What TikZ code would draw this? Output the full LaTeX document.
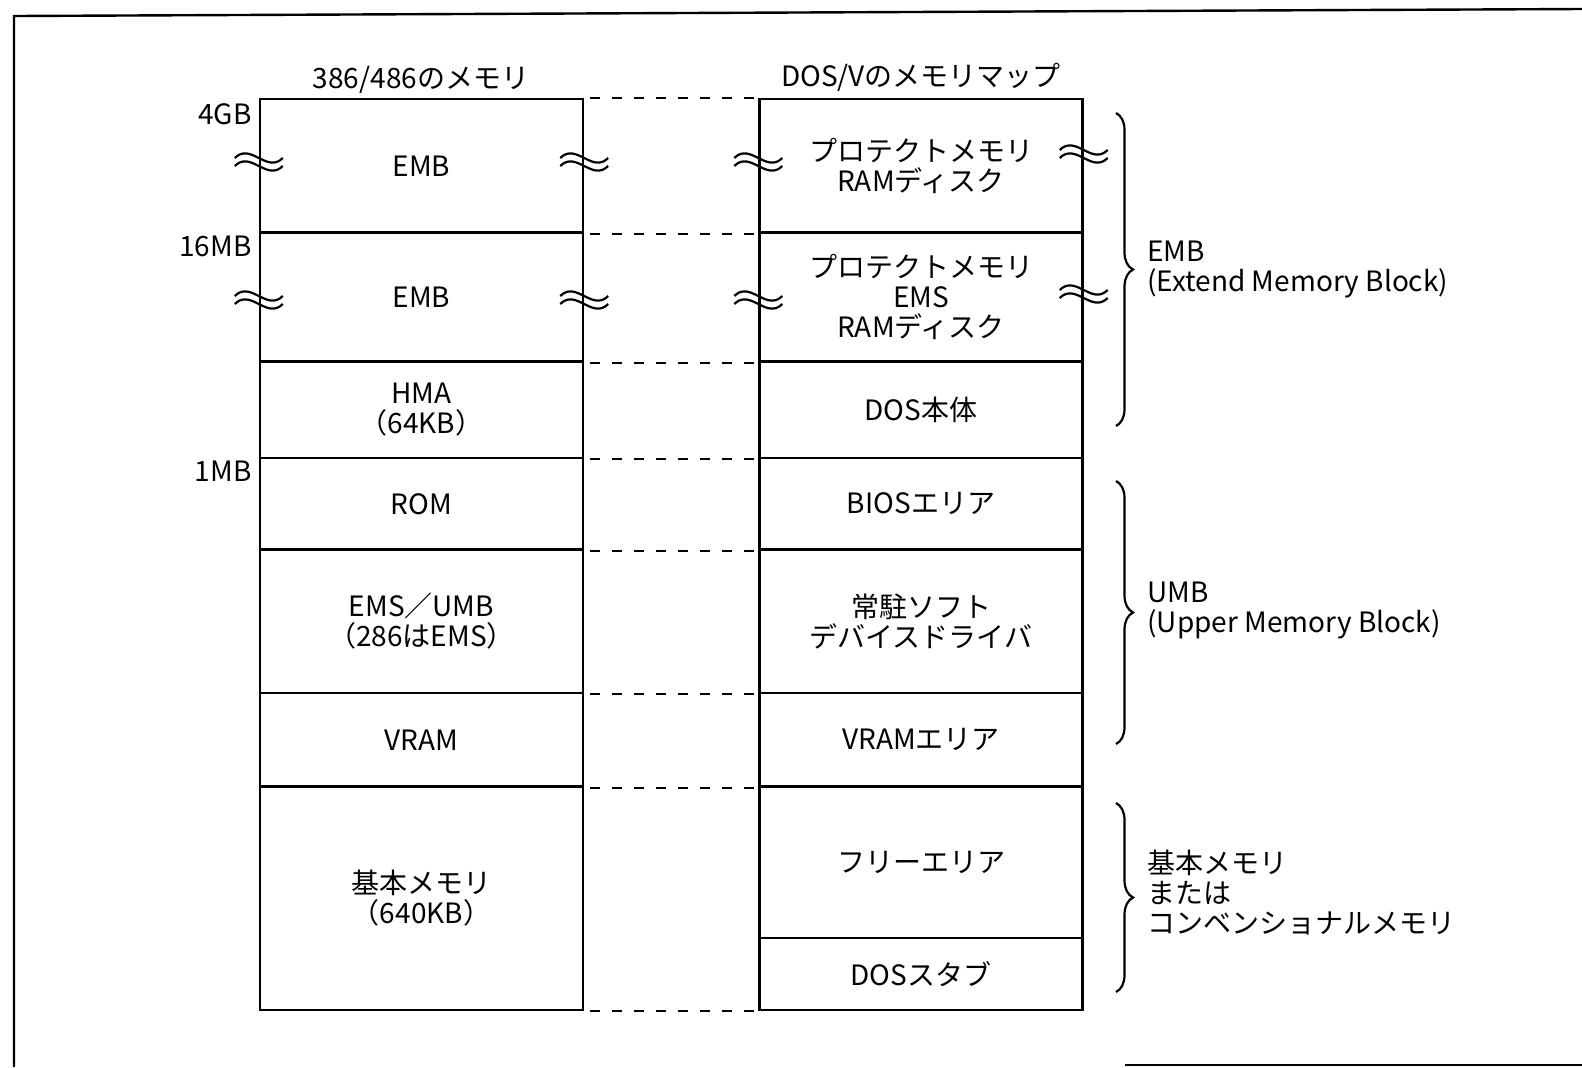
\documentclass[tikz,border=0pt]{standalone}
\usepackage{fontspec}
\setmainfont{Noto Sans CJK JP}
\usetikzlibrary{decorations.pathreplacing}
\begin{document}
\begin{tikzpicture}[x=0.5pt,y=-0.5pt,
  every node/.style={font=\fontsize{14pt}{15pt}\selectfont},
  ln/.style={line width=1.2pt},
  cell/.style={draw, ln, rectangle, minimum width=161.5pt, inner sep=0pt, align=center},
  lbl/.style={inner sep=0pt, align=center},
  side/.style={inner sep=0pt, align=left, anchor=west},
  dashlink/.style={line width=1.2pt, dash pattern=on 5pt off 6pt, dash phase=-3pt},
  bracedraw/.style={line width=1.1pt, decorate, decoration={brace, amplitude=8.5pt}},
  wavy/.pic={
    \draw[line width=1.1pt] (-24,-3) .. controls (-8,-19) and (8,13) .. (24,-3);
    \draw[line width=1.1pt] (-24,5) .. controls (-8,-11) and (8,21) .. (24,5);
  }]
\useasboundingbox (0,0) rectangle (1582,1067);
% frame
\coordinate (ftl) at (14,16);
\coordinate (ftr) at (1582,9);
\coordinate (fbl) at (14,1067);
\coordinate (fbs) at (1125,1065);
\coordinate (fbr) at (1582,1065);
\draw[ln] (fbl) -- (ftl) -- (ftr);
\draw[ln] (fbs) -- (fbr);

% titles
\node[lbl] (tl) at (421,80) {386/486のメモリ};
\node[lbl] (tr) at (921,77) {DOS/Vのメモリマップ};

% left column
\node[cell, minimum height=66.75pt] (l1) at (421.5,165.75) {EMB};
\node[cell, minimum height=64.5pt]  (l2) at (421.5,297) {EMB};
\node[cell, minimum height=48.25pt] (l3) at (421.5,409.75) {HMA\\（64KB）};
\node[cell, minimum height=45.75pt] (l4) at (421.5,503.75) {ROM};
\node[cell, minimum height=71.75pt] (l5) at (421.5,621.25) {EMS／UMB\\（286はEMS）};
\node[cell, minimum height=46.75pt] (l6) at (421.5,739.75) {VRAM};
\node[cell, minimum height=111.75pt] (l7) at (421.5,898.25) {基本メモリ\\（640KB）};

% right column
\node[cell, minimum height=66.75pt] (r1) at (921,165.75) {プロテクトメモリ\\RAMディスク};
\node[cell, minimum height=64.5pt]  (r2) at (921,297) {プロテクトメモリ\\EMS\\RAMディスク};
\node[cell, minimum height=48.25pt] (r3) at (921,409.75) {DOS本体};
\node[cell, minimum height=45.75pt] (r4) at (921,503.75) {BIOSエリア};
\node[cell, minimum height=71.75pt] (r5) at (921,621.25) {常駐ソフト\\デバイスドライバ};
\node[cell, minimum height=46.75pt] (r6) at (921,739.75) {VRAMエリア};
\node[cell, minimum height=75.75pt] (r7) at (921,862.25) {フリーエリア};
\node[cell, minimum height=36pt]    (r8) at (921,974) {DOSスタブ};

% address labels
\node[lbl, anchor=east] (a4g) at (252,114) {4GB};
\node[lbl, anchor=east] (a16m) at (252,246) {16MB};
\node[lbl, anchor=east] (a1m) at (252,471) {1MB};

% dashed links
\draw[dashlink] (l1.north east) -- (r1.north west);
\draw[dashlink] (l1.south east) -- (r1.south west);
\draw[dashlink] (l2.south east) -- (r2.south west);
\draw[dashlink] (l3.south east) -- (r3.south west);
\draw[dashlink] (l4.south east) -- (r4.south west);
\draw[dashlink] (l5.south east) -- (r5.south west);
\draw[dashlink] (l6.south east) -- (r6.south west);
\draw[dashlink] (l7.south east) -- (r8.south west);

% wavy break marks
\pic at (l1.west |- 0,161) {wavy};
\pic at (l1.east |- 0,161) {wavy};
\pic at (r1.west |- 0,161) {wavy};
\pic at (r1.east |- 0,153) {wavy};
\pic at (l2.west |- 0,299) {wavy};
\pic at (l2.east |- 0,299) {wavy};
\pic at (r2.west |- 0,299) {wavy};
\pic at (r2.east |- 0,293) {wavy};

% braces
\coordinate (b1t) at (1116,113);
\coordinate (b1b) at (1116,426);
\coordinate (b2t) at (1116,481);
\coordinate (b2b) at (1116,744);
\coordinate (b3t) at (1116,803);
\coordinate (b3b) at (1116,992);
\draw[bracedraw] (b1t) -- (b1b);
\draw[bracedraw] (b2t) -- (b2b);
\draw[bracedraw] (b3t) -- (b3b);

\node[side] (s1) at (1147,270) {EMB\\(Extend Memory Block)};
\node[side] (s2) at (1147,610) {UMB\\(Upper Memory Block)};
\node[side] (s3) at (1147,893) {基本メモリ\\または\\コンベンショナルメモリ};
\end{tikzpicture}
\end{document}
